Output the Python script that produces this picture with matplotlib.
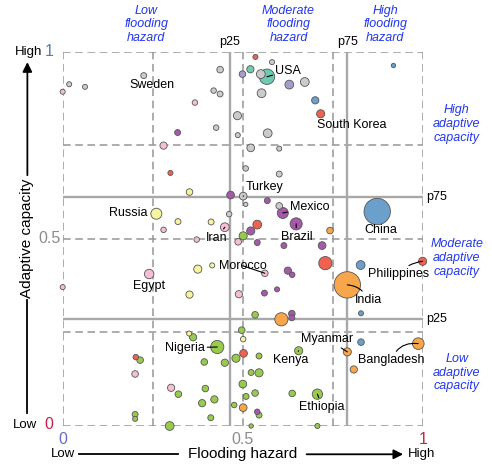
import numpy as np
import matplotlib.pyplot as plt

plt.rcParams['font.family'] = ['Liberation Sans', 'DejaVu Sans']

# flooding hazard (x) and adaptive capacity (y), both rescaled to 0-1
hazard = [
    # gray
    0.018, 0.062, 0.225, 0.437, 0.419, 0.437, 0.426, 0.485, 0.486, 0.550, 0.581,
    0.672, 0.552, 0.569, 0.522, 0.601, 0.508, 0.601, 0.501, 0.508, 0.601, 0.462,
    # lavender, teal
    0.499, 0.629, 0.521, 0.567,
    # red
    0.535, 0.716, 0.299, 0.540, 0.729, 0.999, 0.203, 0.502,
    # blue
    0.701, 0.918, 0.873, 0.827, 0.828, 0.828,
    # purple
    0.319, 0.466, 0.568, 0.611, 0.648, 0.522, 0.540, 0.614, 0.720, 0.625, 0.637,
    0.560, 0.595, 0.636, 0.636, 0.540,
    # pink
    0.000, 0.367, 0.280, 0.280, 0.450, 0.372, 0.487, 0.240, 0.000, 0.489, 0.561,
    0.201, 0.301,
    # yellow
    0.352, 0.260, 0.320, 0.412, 0.375, 0.415, 0.352, 0.351, 0.501,
    # green
    0.501, 0.362, 0.429, 0.215, 0.393, 0.450, 0.481, 0.321, 0.396, 0.421, 0.387,
    0.476, 0.201, 0.201, 0.411, 0.297, 0.497, 0.500, 0.509, 0.534, 0.545, 0.655,
    0.523, 0.545, 0.534, 0.637, 0.707, 0.545, 0.523, 0.707,
    # orange
    0.742, 0.790, 0.607, 0.790, 0.987, 0.808, 0.501,
]
capacity = [
    0.913, 0.906, 0.936, 0.952, 0.896, 0.887, 0.797, 0.829, 0.777, 0.940, 0.972,
    0.919, 0.889, 0.782, 0.743, 0.741, 0.688, 0.673, 0.614, 0.592, 0.588, 0.566,
    0.940, 0.912, 0.953, 0.933,
    0.986, 0.834, 0.676, 0.538, 0.435, 0.440, 0.184, 0.194,
    0.870, 0.963, 0.573, 0.430, 0.301, 0.224,
    0.784, 0.617, 0.602, 0.569, 0.540, 0.521, 0.490, 0.482, 0.482, 0.415, 0.404,
    0.355, 0.365, 0.300, 0.289, 0.038,
    0.893, 0.864, 0.749, 0.524, 0.531, 0.498, 0.492, 0.406, 0.371, 0.352, 0.408,
    0.139, 0.102,
    0.625, 0.567, 0.546, 0.545, 0.419, 0.429, 0.351, 0.247, 0.232,
    0.508, 0.237, 0.211, 0.176, 0.171, 0.169, 0.181, 0.085, 0.100, 0.071, 0.061,
    0.056, 0.031, 0.019, 0.022, 0.000, 0.256, 0.112, 0.079, 0.297, 0.187, 0.201,
    0.143, 0.142, 0.088, 0.087, 0.085, 0.029, 0.000, 0.000,
    0.522, 0.377, 0.285, 0.198, 0.220, 0.151, 0.049,
]
# bubble area
pop = [
    53, 53, 73, 90, 63, 73, 63, 137, 53, 160, 53,
    160, 160, 160, 123, 53, 63, 73, 123, 40, 90, 63,
    90, 160, 109, 490,
    53, 137, 53, 160, 360, 137, 63, 123,
    109, 40, 1440, 160, 53, 90,
    73, 123, 73, 250, 303, 137, 73, 73, 123, 109, 63,
    73, 53, 90, 73, 63,
    53, 63, 109, 63, 160, 63, 90, 185, 53, 109, 90,
    90, 109,
    90, 250, 73, 73, 137, 53, 109, 53, 63,
    137, 109, 360, 90, 90, 109, 137, 90, 90, 109, 109,
    63, 73, 53, 73, 160, 90, 123, 73, 90, 73, 137,
    73, 137, 90, 90, 221, 73, 40, 53,
    90, 1440, 360, 137, 281, 109, 123,
]
group = (['gray'] * 22 + ['lavender'] * 2 + ['teal'] * 2 + ['red'] * 8 +
         ['blue'] * 6 + ['purple'] * 16 + ['pink'] * 13 + ['yellow'] * 9 +
         ['green'] * 30 + ['orange'] * 7)

palette = {
    'gray': '#cbcbcb', 'lavender': '#a39fcd', 'teal': '#6fcab2',
    'red': '#f0614f', 'blue': '#6b9fcc', 'purple': '#a55aa9',
    'pink': '#f6bdd6', 'yellow': '#f6f59d', 'green': '#98cb4d',
    'orange': '#f8a64b',
}

p25_hazard, p75_hazard = 0.464, 0.79
p25_cap, p75_cap = 0.285, 0.613

# country name, point index, text centre, draw leader, leader curvature
labels = [
    ('Sweden', 2, 0.247, 0.912, False, 0),
    ('USA', 25, 0.626, 0.949, True, 0),
    ('South Korea', 27, 0.802, 0.804, False, 0),
    ('Turkey', 18, 0.560, 0.638, True, 0),
    ('Mexico', 43, 0.686, 0.584, True, 0),
    ('Brazil', 44, 0.649, 0.506, True, 0),
    ('China', 36, 0.883, 0.524, False, 0),
    ('Russia', 70, 0.182, 0.568, False, 0),
    ('Iran', 60, 0.428, 0.503, True, 0),
    ('Morocco', 66, 0.500, 0.428, True, 0),
    ('Egypt', 63, 0.240, 0.374, False, 0),
    ('Philippines', 31, 0.932, 0.405, True, -0.2),
    ('India', 109, 0.848, 0.337, True, 0.3),
    ('Nigeria', 80, 0.338, 0.209, True, 0),
    ('Kenya', 99, 0.633, 0.176, True, 0),
    ('Myanmar', 111, 0.735, 0.232, True, 0),
    ('Bangladesh', 112, 0.913, 0.176, True, -0.4),
    ('Ethiopia', 104, 0.720, 0.052, True, 0),
]

x = np.array(hazard)
y = np.array(capacity)
area = np.array(pop)
cols = np.array([palette[g] for g in group])

fig = plt.figure(figsize=(4.92, 4.65), dpi=100)
ax = fig.add_axes([0.1274, 0.0839, 0.7323, 0.805])
ax.set_xlim(0, 1)
ax.set_ylim(0, 1)
ax.axis('off')

# dashed quarter grid
for v in [0, 0.25, 0.5, 0.75, 1]:
    ax.axvline(v, color='#969696', lw=1.1, ls=(0, (5, 3)), zorder=1)
    ax.axhline(v, color='#969696', lw=1.1, ls=(0, (5, 3)), zorder=1)

# percentile lines
for v in [p25_hazard, p75_hazard]:
    ax.axvline(v, color='#a8a8a8', lw=1.7, zorder=1.5)
for v in [p25_cap, p75_cap]:
    ax.axhline(v, color='#a8a8a8', lw=1.7, zorder=1.5)
ax.text(p25_hazard, 1.01, 'p25', ha='center', va='bottom', fontsize=9)
ax.text(p75_hazard, 1.01, 'p75', ha='center', va='bottom', fontsize=9)
ax.text(1.008, p75_cap, 'p75', ha='left', va='center', fontsize=9)
ax.text(1.008, p25_cap, 'p25', ha='left', va='center', fontsize=9)

# bubbles, big ones underneath
order = np.argsort(area)[::-1]
ax.scatter(x[order], y[order], s=area[order] * 0.25, c=cols[order],
           edgecolors='#555555', linewidths=0.6, zorder=3, clip_on=False)

for name, i, tx, ty, line, rad in labels:
    if line:
        ax.annotate(name, xy=(x[i], y[i]), xytext=(tx, ty), ha='center',
                    va='center', fontsize=9, zorder=4,
                    arrowprops=dict(arrowstyle='-', lw=0.8, color='black',
                                    shrinkA=0, shrinkB=0,
                                    connectionstyle=f'arc3,rad={rad}'))
    else:
        ax.text(tx, ty, name, ha='center', va='center', fontsize=9, zorder=4)

# category headings
blue = '#2236ee'
head = dict(color=blue, style='italic', fontsize=9, ha='center', va='center',
            linespacing=1.2)
ax.text(0.232, 1.073, 'Low\nflooding\nhazard', **head)
ax.text(0.627, 1.073, 'Moderate\nflooding\nhazard', **head)
ax.text(0.895, 1.073, 'High\nflooding\nhazard', **head)
ax.text(1.094, 0.806, 'High\nadaptive\ncapacity', **head)
ax.text(1.094, 0.449, 'Moderate\nadaptive\ncapacity', **head)
ax.text(1.094, 0.1425, 'Low\nadaptive\ncapacity', **head)

# end values
red = '#c8204a'
ax.text(-0.038, 1.0, '1', color='#4f7fb5', fontsize=11.5, ha='center', va='center')
ax.text(-0.038, 0.003, '0', color=red, fontsize=11.5, ha='center', va='center')
ax.text(-0.006, 0.5, '0.5', color='#8c8c8c', fontsize=11.5, ha='right', va='center')
ax.text(0, -0.037, '0', color='#6a6ac8', fontsize=11.5, ha='center', va='center')
ax.text(0.5, -0.037, '0.5', color='#8c8c8c', fontsize=11.5, ha='center', va='center')
ax.text(1, -0.037, '1', color=red, fontsize=11.5, ha='center', va='center')

# y axis arrow
ax.text(-0.096, 1.0, 'High', fontsize=9.5, ha='center', va='center')
ax.text(-0.105, 0.003, 'Low', fontsize=9.5, ha='center', va='center')
ax.text(-0.098, 0.502, 'Adaptive capacity', fontsize=11, rotation=90,
        ha='center', va='center')
ax.plot([-0.098, -0.098], [0.035, 0.337], color='black', lw=1.3,
        transform=ax.transAxes, clip_on=False)
ax.annotate('', xy=(-0.098, 0.972), xytext=(-0.098, 0.67),
            xycoords='axes fraction', textcoords='axes fraction',
            arrowprops=dict(arrowstyle='-|>', color='black', lw=1.3,
                            mutation_scale=14, shrinkA=0, shrinkB=0))

# x axis arrow
ax.text(0.0, -0.0756, 'Low', fontsize=9.5, ha='center', va='center')
ax.text(0.996, -0.0756, 'High', fontsize=9.5, ha='center', va='center')
ax.text(0.499, -0.0756, 'Flooding hazard', fontsize=11, ha='center', va='center')
ax.plot([0.045, 0.32], [-0.0756, -0.0756], color='black', lw=1.3,
        transform=ax.transAxes, clip_on=False)
ax.annotate('', xy=(0.945, -0.0756), xytext=(0.677, -0.0756),
            xycoords='axes fraction', textcoords='axes fraction',
            arrowprops=dict(arrowstyle='-|>', color='black', lw=1.3,
                            mutation_scale=14, shrinkA=0, shrinkB=0))

fig.savefig('out.png', dpi=100)
